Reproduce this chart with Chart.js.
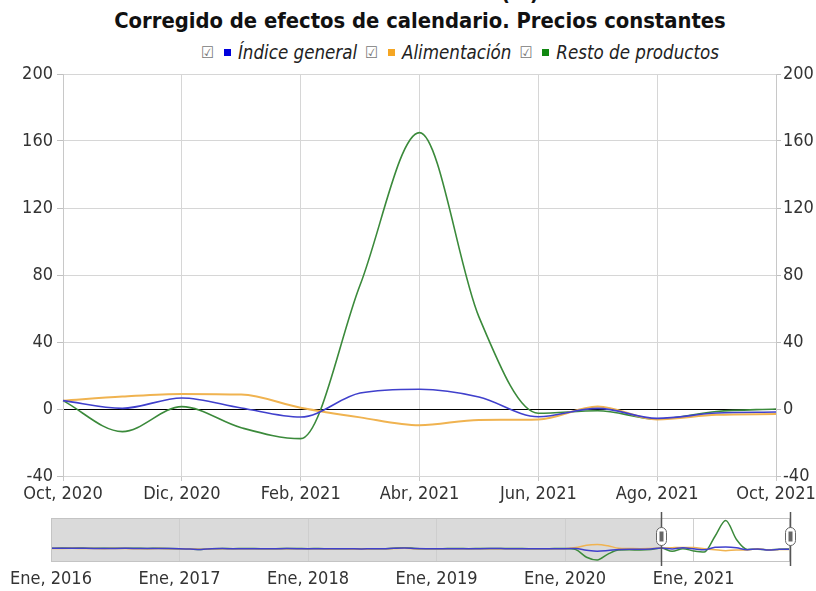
<!DOCTYPE html>
<html>
<head>
<meta charset="utf-8">
<script src="https://cdn.jsdelivr.net/npm/chart.js@4.4.1/dist/chart.umd.min.js"></script>
<style>
  body { margin: 0; background: #fff; }
  #wrap { position: relative; width: 816px; height: 591px; overflow: hidden; font-family: 'DejaVu Sans Condensed', 'DejaVu Sans', sans-serif; }
  .title { position: absolute; left: 0; width: 840px; text-align: center; font-weight: bold; color: #111; white-space: nowrap; }
  #t1 { top: -20px; font-size: 22px; line-height: 26px; }
  #t2 { top: 8px; font-size: 21.8px; line-height: 26px; }
  #legend { position: absolute; left: 201px; top: 42px; display: flex; align-items: center; font-style: italic; font-size: 18.6px; color: #222; white-space: nowrap; }
  .chk { font-style: normal; font-size: 16px; color: #777; margin-right: 10px; }
  .sq { display: inline-block; width: 7px; height: 7px; margin-right: 7px; }
  .item { display: flex; align-items: center; margin-right: 8px; }
  #mainBox { position: absolute; left: 0; top: 60px; width: 816px; height: 450px; }
  #navBox { position: absolute; left: 0; top: 505px; width: 816px; height: 86px; }
</style>
</head>
<body>
<div id="wrap">
  <div class="title" id="t1"></div>
  <div class="title" id="t2"></div>
  <div id="legend"></div>
  <div id="mainBox"><canvas id="mainChart"></canvas></div>
  <div id="navBox"><canvas id="navChart"></canvas></div>
</div>
<script>
// titles and series names
const titleLines = ["Tasa de variación (%)", "Corregido de efectos de calendario. Precios constantes"];
const seriesNames = ["Índice general", "Alimentación", "Resto de productos"];
const seriesColors = ["#4040cc", "#f0b350", "#3b8a3b"];
const legendColors = ["#0000dd", "#f5a623", "#118811"];

// main chart: Oct 2020 - Oct 2021
const months = ["Oct, 2020", "Nov, 2020", "Dic, 2020", "Ene, 2021", "Feb, 2021", "Mar, 2021", "Abr, 2021",
                "May, 2021", "Jun, 2021", "Jul, 2021", "Ago, 2021", "Sep, 2021", "Oct, 2021"];
const indiceGeneral = [5, 0.4, 6.6, 0.6, -4.8, 9.5, 11.8, 7.2, -4.6, 0.4, -5.6, -2.4, -1.8];
const alimentacion = [5, 7.4, 9, 8.6, 0.8, -5, -9.7, -6.5, -6.2, 1.5, -6.2, -3.5, -3];
const restoProductos = [5, -13.5, 1.4, -11.2, -17.7, 74, 165, 55, -2.5, -1, -6, -1.5, 0];
const yTicks = [-40, 0, 40, 80, 120, 160, 200];

// navigator: Ene 2016 - Sep 2020 (then continues with the main chart values)
const navMonthNames = ["Ene", "Feb", "Mar", "Abr", "May", "Jun", "Jul", "Ago", "Sep", "Oct", "Nov", "Dic"];
const navYears = [2016, 2017, 2018, 2019, 2020, 2021];
const indiceGeneralHist = [
  3.5, 4.2, 4.8, 3.9, 3.1, 2.8, 3.4, 3.6, 2.9, 2.2, 3.1, 2.5,
  1.2, -0.8, -2.5, 1.1, 2.3, 1.4, 1.9, 1.6, 1.2, 0.9, 2.1, 1.8,
  1.2, 1.6, 0.9, 1.3, 0.8, 0.4, 0.9, 1.1, 3.8, 5.6, 2.4, 1.2,
  1.0, 1.6, 1.8, 1.2, 1.9, 2.3, 2.1, 1.7, 1.6, 1.1, 0.9, 1.8,
  1.9, 2.2, -7.0, -13.0, -9.0, -3.0, -1.6, -2.4, -0.4];
const alimentacionHist = [
  2.1, 3.0, 3.5, 2.4, 2.0, 1.8, 2.5, 2.2, 1.6, 1.4, 2.0, 1.7,
  0.8, -0.4, -1.6, 0.6, 1.2, 1.0, 1.3, 0.9, 0.7, 0.5, 1.5, 1.1,
  0.6, 0.9, 0.4, 0.8, 0.3, 0.1, 0.5, 0.7, 2.6, 3.9, 1.5, 0.8,
  0.7, 1.1, 1.2, 0.8, 1.4, 1.6, 1.5, 1.2, 1.0, 0.6, 0.5, 1.2,
  1.4, 8.0, 22.0, 26.0, 18.5, 4.2, 2.6, 1.9, 3.1];
const restoProductosHist = [
  4.6, 5.3, 5.9, 5.1, 4.2, 3.6, 4.3, 4.8, 3.9, 2.9, 4.0, 3.3,
  1.5, -1.2, -3.3, 1.6, 3.2, 1.8, 2.5, 2.2, 1.7, 1.3, 2.7, 2.4,
  1.7, 2.2, 1.3, 1.8, 1.2, 0.6, 1.3, 1.5, 4.8, 7.0, 3.2, 1.6,
  1.3, 2.1, 2.4, 1.6, 2.4, 3.0, 2.7, 2.2, 2.1, 1.6, 1.3, 2.4,
  2.4, -4.0, -48.0, -64.0, -30.0, -6.5, -4.8, -5.9, -3.2];

const FONT = "'DejaVu Sans Condensed', 'DejaVu Sans', sans-serif";

// titles + legend (html)
document.getElementById("t1").textContent = titleLines[0];
document.getElementById("t2").textContent = titleLines[1];
const legendEl = document.getElementById("legend");
seriesNames.forEach(function (name, i) {
    const item = document.createElement("div");
    item.className = "item";
    item.innerHTML = '<span class="chk">\u2611</span><span class="sq" style="background:' + legendColors[i] + '"></span><span>' + name + '</span>';
    legendEl.appendChild(item);
});

// main chart
const mainSeries = [indiceGeneral, alimentacion, restoProductos];
const mainChart = new Chart(document.getElementById("mainChart"), {
    type: "line",
    data: {
        labels: months,
        datasets: mainSeries.map(function (vals, i) {
            return {
                label: seriesNames[i],
                data: vals,
                borderColor: seriesColors[i],
                borderWidth: i === 1 ? 2 : 1.6,
                pointRadius: 0,
                cubicInterpolationMode: "monotone",
                fill: false
            };
        })
    },
    options: {
        responsive: true,
        maintainAspectRatio: false,
        animation: false,
        layout: { autoPadding: false, padding: { top: 14, left: 0, right: 0, bottom: 0 } },
        plugins: { legend: { display: false }, tooltip: { enabled: false } },
        scales: {
            x: {
                grid: { color: "#d6d6d6", tickLength: 5, tickColor: "#c8c8c8" },
                border: { display: false },
                ticks: {
                    autoSkip: false, maxRotation: 0, padding: 3,
                    color: "#333", font: { family: FONT, size: 18 },
                    callback: function (v, i) { return i % 2 === 0 ? months[i] : null; }
                },
                afterFit: function (s) { s.height = 34; s.paddingLeft = 0; s.paddingRight = 0; }
            },
            y: {
                position: "left",
                min: -40, max: 200,
                afterBuildTicks: function (s) { s.ticks = yTicks.map(function (v) { return { value: v }; }); },
                grid: {
                    color: function (c) { return c.tick && c.tick.value === 0 ? "#000" : "#d6d6d6"; },
                    tickLength: 6, tickColor: "#c0c0c0"
                },
                border: { color: "#c8c8c8" },
                ticks: { padding: 4, color: "#333", font: { family: FONT, size: 18 } },
                afterFit: function (s) { s.width = 63; s.paddingTop = 0; s.paddingBottom = 0; }
            },
            y2: {
                position: "right",
                min: -40, max: 200,
                afterBuildTicks: function (s) { s.ticks = yTicks.map(function (v) { return { value: v }; }); },
                grid: { drawOnChartArea: false, tickLength: 5, tickColor: "#c0c0c0" },
                border: { color: "#c8c8c8" },
                ticks: { padding: 2, color: "#333", font: { family: FONT, size: 18 } },
                afterFit: function (s) { s.width = 40; s.paddingTop = 0; s.paddingBottom = 0; }
            }
        }
    }
});

// navigator
const navLabels = [];
navYears.forEach(function (y) {
    navMonthNames.forEach(function (m) { navLabels.push(m + ", " + y); });
});
const navSeries = [
    indiceGeneralHist.concat(indiceGeneral),
    alimentacionHist.concat(alimentacion),
    restoProductosHist.concat(restoProductos)
];
navLabels.length = navSeries[0].length;
const selStart = indiceGeneralHist.length;  // Oct 2020

const navDecor = {
    id: "navDecor",
    beforeDatasetsDraw: function (chart) {
        const ctx = chart.ctx, a = chart.chartArea, x = chart.scales.x;
        const xs = x.getPixelForValue(selStart);
        ctx.save();
        ctx.fillStyle = "rgba(205,205,205,0.75)";
        ctx.fillRect(a.left, a.top, xs - a.left, a.bottom - a.top);
        ctx.restore();
    },
    afterDraw: function (chart) {
        const ctx = chart.ctx, a = chart.chartArea, x = chart.scales.x;
        ctx.save();
        ctx.strokeStyle = "#c4c4c4";
        ctx.lineWidth = 1;
        ctx.strokeRect(a.left + 0.5, a.top + 0.5, a.right - a.left - 1, a.bottom - a.top);
        [x.getPixelForValue(selStart), x.getPixelForValue(navLabels.length - 1)].forEach(function (px) {
            px = Math.round(px) + 0.5;
            ctx.strokeStyle = "#555";
            ctx.lineWidth = 1.5;
            ctx.beginPath(); ctx.moveTo(px, a.top - 6); ctx.lineTo(px, a.bottom + 5); ctx.stroke();
            const hy = (a.top + a.bottom) / 2 - 3;
            ctx.fillStyle = "#fff";
            ctx.strokeStyle = "#666";
            ctx.lineWidth = 1;
            ctx.beginPath();
            ctx.roundRect(px - 5, hy - 9, 10, 18, 5);
            ctx.fill(); ctx.stroke();
            ctx.fillStyle = "#666";
            ctx.fillRect(px - 2, hy - 5, 4, 10);
        });
        ctx.restore();
    }
};

const navChart = new Chart(document.getElementById("navChart"), {
    type: "line",
    data: {
        labels: navLabels,
        datasets: navSeries.map(function (vals, i) {
            return {
                data: vals,
                borderColor: seriesColors[i],
                borderWidth: 1.5,
                pointRadius: 0,
                cubicInterpolationMode: "monotone",
                fill: false
            };
        })
    },
    options: {
        responsive: true,
        maintainAspectRatio: false,
        animation: false,
        layout: { autoPadding: false, padding: { top: 13, left: 51, right: 26, bottom: 0 } },
        plugins: { legend: { display: false }, tooltip: { enabled: false } },
        scales: {
            x: {
                grid: { color: "#d0d0d0", drawTicks: false },
                border: { display: false },
                ticks: {
                    autoSkip: false, maxRotation: 0, padding: 8,
                    color: "#333", font: { family: FONT, size: 18 },
                    callback: function (v, i) { return i % 12 === 0 ? navLabels[i] : null; }
                },
                afterFit: function (s) { s.height = 30; s.paddingLeft = 0; s.paddingRight = 0; }
            },
            y: { display: false, min: -70, max: 180 }
        }
    },
    plugins: [navDecor]
});
</script>
</body>
</html>
